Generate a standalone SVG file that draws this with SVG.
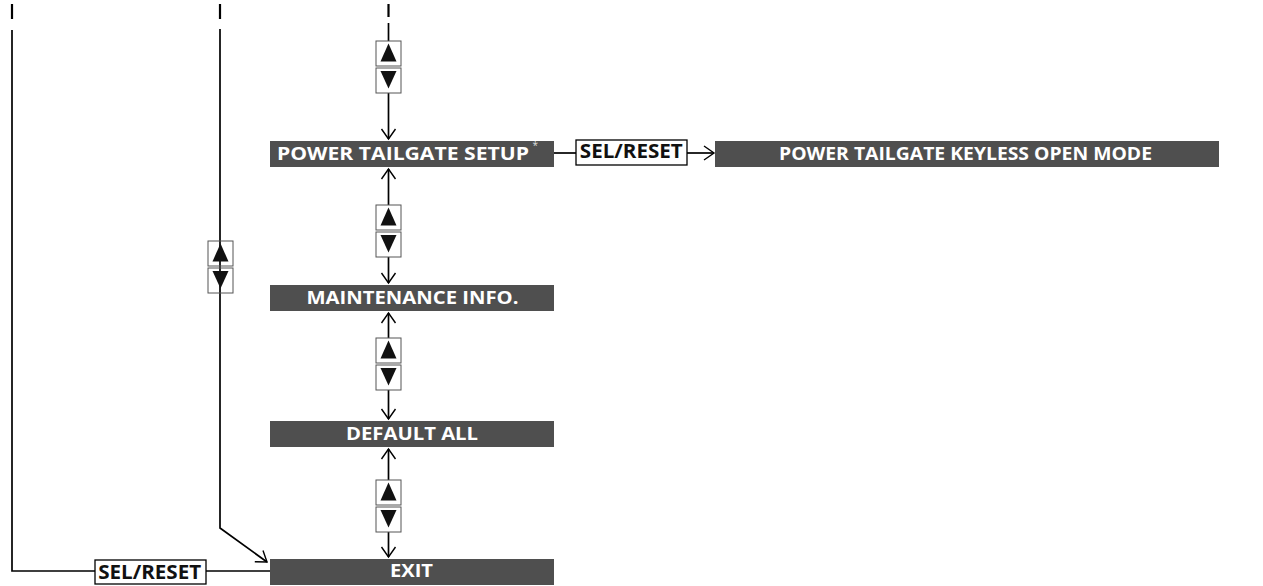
<svg xmlns="http://www.w3.org/2000/svg" width="1263" height="586" viewBox="0 0 1263 586">
<defs>
<style>
.node{fill:#4f4f4f}
.nt{font-family:"Open Sans","Liberation Sans",sans-serif;font-weight:bold;font-size:18.5px;fill:#fff;text-anchor:middle}
.ln{stroke:#000;stroke-width:1.7;fill:none}
.box{fill:#fff;stroke:#555;stroke-width:1}
.boxt{fill:none;stroke:#555;stroke-width:1}
.tri{fill:#111}
.kb{fill:#fff;stroke:#000;stroke-width:1.3}
.kt{font-family:"Open Sans","Liberation Sans",sans-serif;font-weight:bold;font-size:19px;fill:#111;text-anchor:middle}
</style>
<marker id="ah" markerUnits="userSpaceOnUse" markerWidth="20" markerHeight="20" viewBox="-12 -10 14 20" refX="0" refY="0" orient="auto">
<path d="M-10,-7 L0,0 L-10,7" fill="none" stroke="#000" stroke-width="1.4"/>
</marker>
<g id="ud">
<rect class="box" x="-12.5" y="0" width="25" height="25"/>
<path class="tri" d="M0,2.5 L8,20.5 L-8,20.5 Z"/>
<rect class="box" x="-12.5" y="27" width="25" height="25"/>
<path class="tri" d="M0,47.5 L8,30 L-8,30 Z"/>
</g>
<g id="udt">
<rect class="boxt" x="-12.5" y="0" width="25" height="25"/>
<path class="tri" d="M0,2.5 L8,20.5 L-8,20.5 Z"/>
<rect class="boxt" x="-12.5" y="27" width="25" height="25"/>
<path class="tri" d="M0,47.5 L8,30 L-8,30 Z"/>
</g>
</defs>

<g id="connectors">
<path class="ln" d="M12,4 V19" style="stroke-width:2.2"/>
<path class="ln" d="M12,30 V571 H95"/>
<path class="ln" d="M206,571 H270"/>
<path class="ln" d="M220,4 V19" style="stroke-width:2.2"/>
<path class="ln" d="M220,29 V528 L267,562" marker-end="url(#ah)"/>
<path class="ln" d="M388.5,4 V17" style="stroke-width:2.2"/>
<path class="ln" d="M388.5,23 V41"/>
<path class="ln" d="M388.5,93 V139" marker-end="url(#ah)"/>
<path class="ln" d="M388.5,205 V169" marker-end="url(#ah)"/>
<path class="ln" d="M388.5,257 V283" marker-end="url(#ah)"/>
<path class="ln" d="M388.5,338 V313" marker-end="url(#ah)"/>
<path class="ln" d="M388.5,390 V419" marker-end="url(#ah)"/>
<path class="ln" d="M388.5,480 V449" marker-end="url(#ah)"/>
<path class="ln" d="M388.5,532 V557" marker-end="url(#ah)"/>
<path class="ln" d="M554,153 H576"/>
<path class="ln" d="M687,153 H714" marker-end="url(#ah)"/>
</g>

<g id="keys">
<use href="#ud" x="388.5" y="41"/>
<use href="#ud" x="388.5" y="205"/>
<use href="#ud" x="388.5" y="338"/>
<use href="#ud" x="388.5" y="480"/>
<use href="#udt" x="220.5" y="241"/>
</g>

<g id="sel1">
<rect class="kb" x="576" y="140" width="111" height="25"/>
<text class="kt" x="631.3" y="158" textLength="103" lengthAdjust="spacingAndGlyphs">SEL/RESET</text>
</g>
<g id="sel2">
<rect class="kb" x="95" y="560" width="111" height="24"/>
<text class="kt" x="149.7" y="578.7" textLength="103" lengthAdjust="spacingAndGlyphs">SEL/RESET</text>
</g>

<g id="n-setup">
<rect class="node" x="270" y="141" width="284" height="26"/>
<text class="nt" x="403" y="159.5" textLength="252" lengthAdjust="spacingAndGlyphs">POWER TAILGATE SETUP</text>
<text x="532.5" y="149" style="font-family:'Open Sans','Liberation Sans',sans-serif;font-size:10px;fill:#ddd">*</text>
</g>
<g id="n-keyless">
<rect class="node" x="715" y="141" width="504" height="26"/>
<text class="nt" x="965.5" y="159.5" textLength="373" lengthAdjust="spacingAndGlyphs">POWER TAILGATE KEYLESS OPEN MODE</text>
</g>
<g id="n-maint">
<rect class="node" x="270" y="285" width="284" height="26"/>
<text class="nt" x="412.5" y="303.5" textLength="212" lengthAdjust="spacingAndGlyphs">MAINTENANCE INFO.</text>
</g>
<g id="n-default">
<rect class="node" x="270" y="421" width="284" height="26"/>
<text class="nt" x="412" y="439.5" textLength="132" lengthAdjust="spacingAndGlyphs">DEFAULT ALL</text>
</g>
<g id="n-exit">
<rect class="node" x="270" y="559" width="284" height="26"/>
<text class="nt" x="411.5" y="577" textLength="43" lengthAdjust="spacingAndGlyphs">EXIT</text>
</g>
</svg>
